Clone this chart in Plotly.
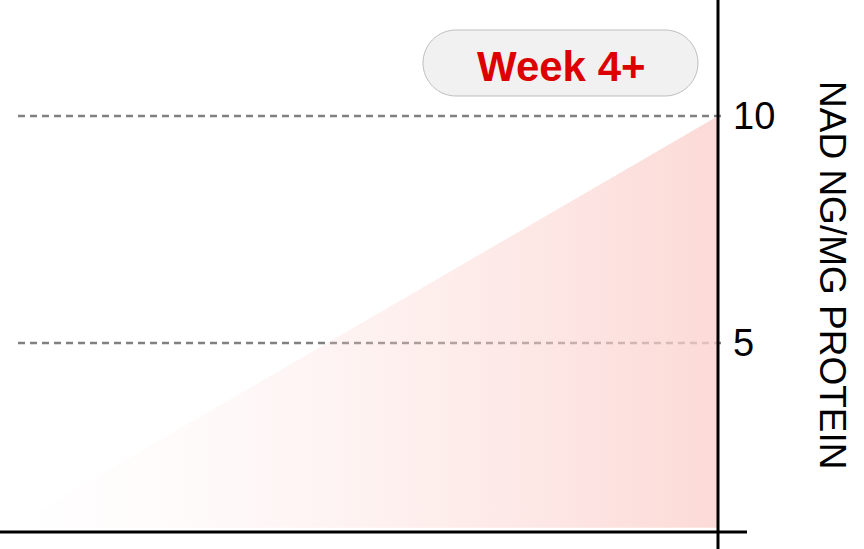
import plotly.graph_objects as go

# NAD level ramp up to week 4+
weeks = [0.05, 4.0, 4.0]
nad_level = [0.93, 10.0, 0.93]

tick_values = [5, 10]
tick_labels = ["5", "10"]

axis_title = "NAD NG/MG PROTEIN"
badge_text = "Week 4+"

W, H = 864, 549
PLOT_W = 718  # plot area width in px (left margin 0)
FONT = "Liberation Sans, Arial, sans-serif"


def px_x(p):
    return p / PLOT_W


def px_y(p):
    return 1 - p / H


def pill_path(x0, y0, x1, y1):
    # rounded pill in pixel space, converted to paper coords
    r = (y1 - y0) / 2
    k = 0.5523 * r
    pts = [
        ("M", [(x0 + r, y0)]),
        ("L", [(x1 - r, y0)]),
        ("C", [(x1 - r + k, y0), (x1, y0 + r - k), (x1, y0 + r)]),
        ("C", [(x1, y0 + r + k), (x1 - r + k, y1), (x1 - r, y1)]),
        ("L", [(x0 + r, y1)]),
        ("C", [(x0 + r - k, y1), (x0, y1 - r + k), (x0, y1 - r)]),
        ("C", [(x0, y0 + r - k), (x0 + r - k, y0), (x0 + r, y0)]),
    ]
    out = ""
    for cmd, coords in pts:
        out += cmd + " " + " ".join(f"{px_x(a):.5f},{px_y(b):.5f}" for a, b in coords) + " "
    return out + "Z"


# pink ramps in faster towards the right
pink = (251, 209, 205)
stops = [0, 0.25, 0.5, 0.75, 1]
colorscale = [[s, f"rgba({pink[0]},{pink[1]},{pink[2]},{0.8 * s ** 1.5:.3f})"] for s in stops]

fig = go.Figure()
fig.add_trace(
    go.Scatter(
        x=weeks,
        y=nad_level,
        mode="none",
        fill="toself",
        fillgradient=dict(type="horizontal", colorscale=colorscale),
        hoverinfo="skip",
        showlegend=False,
    )
)

shapes = []
for v in tick_values:
    shapes.append(
        dict(
            type="line", layer="below", xref="paper", yref="y",
            x0=px_x(18), x1=px_x(726), y0=v, y1=v,
            line=dict(color="rgb(128,128,128)", width=2.5, dash="7px,5px"),
        )
    )
# right axis line and baseline
shapes.append(
    dict(type="line", xref="paper", yref="paper", x0=1, x1=1, y0=-0.02, y1=1.02,
         line=dict(color="black", width=3))
)
shapes.append(
    dict(type="line", xref="paper", yref="paper", x0=-0.01, x1=px_x(747),
         y0=px_y(532), y1=px_y(532), line=dict(color="black", width=3))
)
# badge
shapes.append(
    dict(type="path", xref="paper", yref="paper", path=pill_path(423, 30, 698, 96),
         fillcolor="rgb(241,241,241)", line=dict(color="rgb(190,190,190)", width=1))
)

fig.update_layout(
    width=W,
    height=H,
    autosize=False,
    margin=dict(l=0, r=W - PLOT_W, t=0, b=0),
    paper_bgcolor="white",
    plot_bgcolor="white",
    shapes=shapes,
    xaxis=dict(visible=False, range=[0, 4], fixedrange=True),
    yaxis=dict(
        side="right",
        range=[0.463, 12.556],
        tickvals=tick_values,
        ticktext=tick_labels,
        ticks="",
        showgrid=False,
        zeroline=False,
        showline=False,
        automargin=False,
        ticklabelstandoff=14,
        tickfont=dict(family=FONT, size=38, color="black"),
        fixedrange=True,
    ),
    annotations=[
        dict(
            text=axis_title, xref="paper", yref="paper", x=px_x(833), y=px_y(275),
            xanchor="center", yanchor="middle", textangle=90, showarrow=False,
            font=dict(family=FONT, size=37, color="black"),
        ),
        dict(
            text=badge_text, xref="paper", yref="paper", x=px_x(561), y=px_y(66),
            xanchor="center", yanchor="middle", showarrow=False,
            font=dict(family=FONT, size=42, color="rgb(221,0,0)", weight=700),
        ),
    ],
)

# page body margin would shift the chart by 8px
fig.write_html("out.html", config={"displayModeBar": False},
               post_script="document.body.style.margin='0';")
